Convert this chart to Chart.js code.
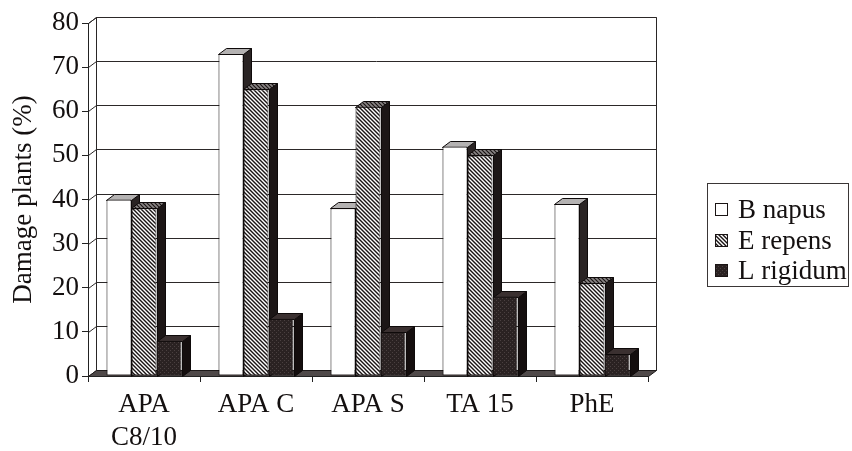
<!DOCTYPE html>
<html>
<head>
<meta charset="utf-8">
<script src="https://cdn.jsdelivr.net/npm/chart.js@4/dist/chart.umd.min.js"></script>
<style>
  html, body { margin: 0; padding: 0; background: #fff; }
  #wrap { width: 852px; height: 451px; }
</style>
</head>
<body>
<div id="wrap"><canvas id="c" width="852" height="451"></canvas></div>
<script>
// Damage to plants (%) per treatment and species
const categories = [["APA", "C8/10"], "APA C", "APA S", "TA 15", "PhE"];
const seriesNames = ["B napus", "E repens", "L rigidum"];
const bNapus   = [40, 73, 38, 52, 39];
const eRepens  = [38, 65, 61, 50, 21];
const lRigidum = [8, 13, 10, 18, 5];
const yMin = 0, yMax = 80, yStep = 10;

const FONT = "'Liberation Serif', 'Times New Roman', serif";
const FSIZE = 27;
const INK = '#141010';
const DX = 8, DY = 6; // depth offset of the pseudo-3D columns

function makeCanvas(w, h) {
  const c = document.createElement('canvas');
  c.width = w; c.height = h;
  return c;
}

// diagonal "\" hatch
function hatchPattern(bg, fg, period, lw) {
  const c = makeCanvas(period, period);
  const g = c.getContext('2d');
  g.fillStyle = bg; g.fillRect(0, 0, period, period);
  g.strokeStyle = fg; g.lineWidth = lw;
  for (let k = -1; k <= 1; k++) {
    g.beginPath();
    g.moveTo(k * period - 1, -1);
    g.lineTo(k * period + period + 1, period + 1);
    g.stroke();
  }
  return g.createPattern(c, 'repeat');
}

// dark fill with a faint grid texture
function darkPattern(bg, fg) {
  const c = makeCanvas(4, 4);
  const g = c.getContext('2d');
  g.fillStyle = bg; g.fillRect(0, 0, 4, 4);
  g.fillStyle = fg;
  g.fillRect(0, 0, 1, 1);
  g.fillRect(2, 2, 1, 1);
  return g.createPattern(c, 'repeat');
}

const ctx0 = document.getElementById('c').getContext('2d');
const frontFill = ['#ffffff', hatchPattern('#ffffff', '#1a1414', 4, 1.4), darkPattern('#2a2222', '#4a4040')];
const topFill   = ['#b4b2b2', hatchPattern('#8a8686', '#1a1414', 4, 1.2), '#3a3030'];
const sideFill  = ['#2a2424', '#1c1616', '#140e0e'];

function poly(ctx, pts, fill) {
  ctx.beginPath();
  ctx.moveTo(pts[0][0], pts[0][1]);
  for (let i = 1; i < pts.length; i++) ctx.lineTo(pts[i][0], pts[i][1]);
  ctx.closePath();
  ctx.fillStyle = fill;
  ctx.fill();
  ctx.stroke();
}

const depthPlugin = {
  id: 'depth3d',
  beforeDraw(chart) {
    const { ctx, chartArea: a, scales: { y } } = chart;
    const base = Math.round(y.getPixelForValue(yMin)) + 0.5;
    const top = Math.round(y.getPixelForValue(yMax)) + 0.5;
    const L = a.left + 0.5, R = a.right + 0.5;
    ctx.save();
    ctx.lineWidth = 1;
    ctx.strokeStyle = '#2a2626';
    // back wall
    poly(ctx, [[L + DX, top - DY], [R + DX, top - DY], [R + DX, base - DY], [L + DX, base - DY]], '#ffffff');
    // left wall
    poly(ctx, [[L, top], [L + DX, top - DY], [L + DX, base - DY], [L, base]], '#ffffff');
    // gridlines running along the left and back walls
    ctx.strokeStyle = '#2c2828';
    for (let v = yMin + yStep; v <= yMax; v += yStep) {
      const py = Math.round(y.getPixelForValue(v)) + 0.5;
      ctx.beginPath();
      ctx.moveTo(L, py);
      ctx.lineTo(L + DX, py - DY);
      ctx.lineTo(R + DX, py - DY);
      ctx.stroke();
    }
    // floor
    ctx.strokeStyle = '#1e1a1a';
    poly(ctx, [[L, base], [R, base], [R + DX, base - DY], [L + DX, base - DY]], '#4f4949');
    ctx.restore();
  },
  beforeDatasetsDraw(chart) {
    const { ctx } = chart;
    ctx.save();
    ctx.lineWidth = 1;
    ctx.strokeStyle = '#0e0a0a';
    const n = chart.data.labels.length;
    for (let j = 0; j < n; j++) {
      chart.data.datasets.forEach((ds, i) => {
        const el = chart.getDatasetMeta(i).data[j];
        const x0 = Math.round(el.x - el.width / 2) + 0.5;
        const x1 = Math.round(el.x + el.width / 2) + 0.5;
        const yt = Math.round(el.y) + 0.5;
        const yb = Math.round(el.base) + 0.5;
        poly(ctx, [[x1, yt], [x1 + DX, yt - DY], [x1 + DX, yb - DY], [x1, yb]], sideFill[i]);
        poly(ctx, [[x0, yt], [x1, yt], [x1 + DX, yt - DY], [x0 + DX, yt - DY]], topFill[i]);
      });
    }
    ctx.restore();
  },
  afterDraw(chart) {
    // legend box on the right
    const { ctx } = chart;
    const bx = 707.5, by = 183.5, bw = 141, bh = 103;
    ctx.save();
    ctx.lineWidth = 1;
    ctx.strokeStyle = '#3a3636';
    ctx.strokeRect(bx, by, bw, bh);
    ctx.font = FSIZE + 'px ' + FONT;
    ctx.textBaseline = 'middle';
    ctx.textAlign = 'left';
    const rows = [210, 241, 271];
    chart.data.datasets.forEach((ds, i) => {
      const cy = rows[i];
      ctx.fillStyle = frontFill[i];
      ctx.strokeStyle = '#1a1414';
      ctx.fillRect(715, cy - 7, 13, 13);
      ctx.strokeRect(715.5, cy - 6.5, 12, 12);
      ctx.fillStyle = INK;
      ctx.fillText(ds.label, 738, cy + 1);
    });
    ctx.restore();
  }
};

const datasets = [bNapus, eRepens, lRigidum].map((vals, i) => ({
  label: seriesNames[i],
  data: vals,
  backgroundColor: frontFill[i],
  borderColor: '#0e0a0a',
  borderWidth: 1,
  borderSkipped: false
}));

new Chart(ctx0, {
  type: 'bar',
  data: { labels: categories, datasets },
  options: {
    responsive: false,
    devicePixelRatio: 1,
    animation: false,
    layout: { padding: { left: 3, top: 23, right: 204, bottom: 0 } },
    datasets: { bar: { categoryPercentage: 0.67, barPercentage: 1.0 } },
    plugins: { legend: { display: false }, tooltip: { enabled: false } },
    scales: {
      x: {
        grid: { offset: true, drawOnChartArea: false, drawTicks: true, tickLength: 6, color: '#222' },
        border: { display: true, color: '#222' },
        ticks: { font: { family: FONT, size: FSIZE, lineHeight: 1.2 }, color: INK, padding: 7, maxRotation: 0, autoSkip: false },
        afterFit(s) { s.height = 75; }
      },
      y: {
        min: yMin, max: yMax,
        grid: { drawOnChartArea: false, drawTicks: true, tickLength: 6, color: '#222' },
        border: { display: true, color: '#222' },
        ticks: { stepSize: yStep, font: { family: FONT, size: FSIZE }, color: INK, padding: 3 },
        title: { display: true, text: 'Damage plants (%)', font: { family: FONT, size: FSIZE }, color: INK, padding: { top: 5, bottom: 4 } },
        afterFit(s) { s.width = 85; }
      }
    }
  },
  plugins: [depthPlugin]
});
</script>
</body>
</html>
